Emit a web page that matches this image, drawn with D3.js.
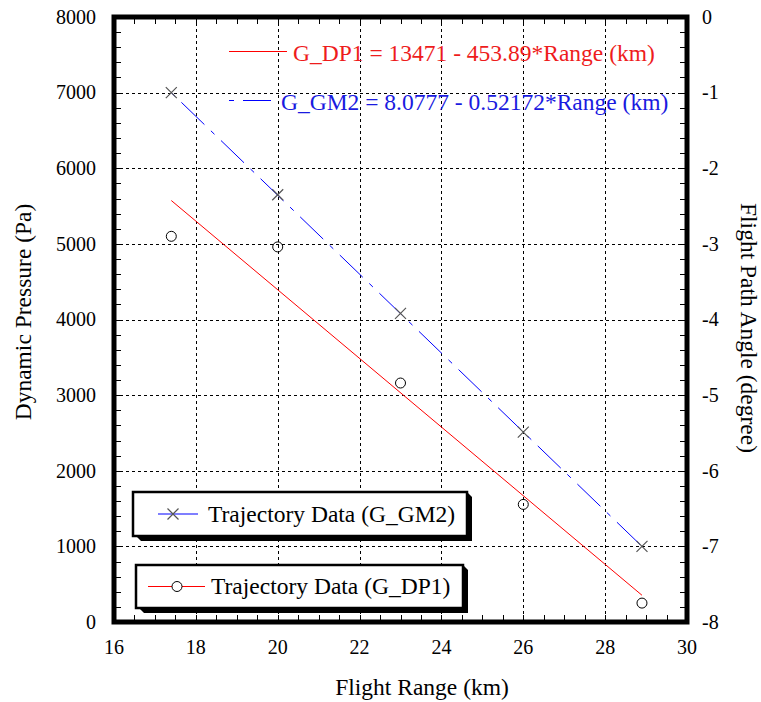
<!DOCTYPE html>
<html>
<head>
<meta charset="utf-8">
<script src="https://cdn.jsdelivr.net/npm/d3@7"></script>
<style>
  body { margin: 0; background: #fff; }
  svg text { font-family: "Liberation Serif", "Times New Roman", serif; }
</style>
</head>
<body>
<svg id="chart" width="761" height="702"></svg>
<script>
// Flight range (km) of the trajectory samples
const rangeKm = [17.4, 20, 23, 26, 28.9];
// Dynamic pressure (Pa), left axis
const dynPressure = [5100, 4960, 3160, 1555, 250];
// Flight path angle (degree), right axis
const pathAngle = [-1.0, -2.35, -3.92, -5.49, -7.0];

// linear fits shown in the annotations
const fitDP1 = { a: 13471, b: 453.89, label: "G_DP1 = 13471 - 453.89*Range (km)" };
const fitGM2 = { a: 8.0777, b: 0.52172, label: "G_GM2 = 8.0777 - 0.52172*Range (km)" };

const xTicks = [16, 18, 20, 22, 24, 26, 28, 30];
const yLeftTicks = [0, 1000, 2000, 3000, 4000, 5000, 6000, 7000, 8000];
const yRightTicks = [0, -1, -2, -3, -4, -5, -6, -7, -8];

const svg = d3.select("#chart");
const plot = { left: 114, top: 17, right: 687, bottom: 622 };
const bigFont = 23.5;

const x = d3.scaleLinear().domain([16, 30]).range([plot.left, plot.right]);
const yL = d3.scaleLinear().domain([0, 8000]).range([plot.bottom, plot.top]);
const yR = d3.scaleLinear().domain([-8, 0]).range([plot.bottom, plot.top]);

// dashed grid at major ticks
const grid = svg.append("g").attr("stroke", "#000").attr("stroke-width", 1)
  .attr("stroke-dasharray", "3,3").attr("shape-rendering", "crispEdges");
xTicks.slice(1, -1).forEach(t => {
  grid.append("line").attr("x1", Math.round(x(t)) + 0.5).attr("x2", Math.round(x(t)) + 0.5)
    .attr("y1", plot.top).attr("y2", plot.bottom);
});
yLeftTicks.slice(1, -1).forEach(t => {
  grid.append("line").attr("y1", Math.round(yL(t)) + 0.5).attr("y2", Math.round(yL(t)) + 0.5)
    .attr("x1", plot.left).attr("x2", plot.right);
});

// minor ticks pointing inward on all four sides
const minorX = d3.range(16, 30.01, 0.5);
const minorY = d3.range(0, 8001, 200);
const ticks = svg.append("g").attr("stroke", "#000").attr("stroke-width", 1)
  .attr("shape-rendering", "crispEdges");
minorX.forEach(t => {
  const px = Math.round(x(t)) + 0.5;
  ticks.append("line").attr("x1", px).attr("x2", px).attr("y1", plot.bottom).attr("y2", plot.bottom - 7);
  ticks.append("line").attr("x1", px).attr("x2", px).attr("y1", plot.top).attr("y2", plot.top + 7);
});
minorY.forEach(t => {
  const py = Math.round(yL(t)) + 0.5;
  ticks.append("line").attr("y1", py).attr("y2", py).attr("x1", plot.left).attr("x2", plot.left + 7);
  ticks.append("line").attr("y1", py).attr("y2", py).attr("x1", plot.right).attr("x2", plot.right - 7);
});

// fit lines
const fitX = [rangeKm[0], rangeKm[rangeKm.length - 1]];
svg.append("path")
  .attr("d", d3.line().x(d => x(d)).y(d => yL(fitDP1.a - fitDP1.b * d))(fitX))
  .attr("fill", "none").attr("stroke", "#ff0000").attr("stroke-width", 1);
svg.append("path")
  .attr("d", d3.line().x(d => x(d)).y(d => yR(fitGM2.a - fitGM2.b * d))(fitX))
  .attr("fill", "none").attr("stroke", "#0000ff").attr("stroke-width", 1)
  .attr("stroke-dasharray", "32,9,5,9").attr("stroke-dashoffset", -14);

// markers
function cross(g, cx, cy, s) {
  g.append("path").attr("d", `M${cx - s},${cy - s}L${cx + s},${cy + s}M${cx - s},${cy + s}L${cx + s},${cy - s}`)
    .attr("stroke", "#555").attr("stroke-width", 1.2).attr("fill", "none");
}
const marks = svg.append("g");
rangeKm.forEach((r, i) => {
  marks.append("circle").attr("cx", x(r)).attr("cy", yL(dynPressure[i])).attr("r", 5)
    .attr("fill", "none").attr("stroke", "#000").attr("stroke-width", 1);
  cross(marks, x(r), yR(pathAngle[i]), 5.5);
});

// frame
svg.append("rect").attr("x", plot.left).attr("y", plot.top)
  .attr("width", plot.right - plot.left).attr("height", plot.bottom - plot.top)
  .attr("fill", "none").attr("stroke", "#000").attr("stroke-width", 5);

// tick labels
const lab = svg.append("g").attr("font-size", 20).attr("fill", "#000");
xTicks.forEach(t => {
  lab.append("text").attr("x", x(t)).attr("y", 654).attr("text-anchor", "middle").text(t);
});
yLeftTicks.forEach(t => {
  lab.append("text").attr("x", 96).attr("y", yL(t)).attr("dy", "0.34em")
    .attr("text-anchor", "end").text(t);
});
yRightTicks.forEach(t => {
  lab.append("text").attr("x", 702).attr("y", yR(t)).attr("dy", "0.34em")
    .attr("text-anchor", "start").text(t);
});

// axis titles
svg.append("text").attr("x", 422).attr("y", 695).attr("text-anchor", "middle")
  .attr("font-size", bigFont).text("Flight Range (km)");
svg.append("text").attr("transform", "translate(31,312) rotate(-90)")
  .attr("text-anchor", "middle").attr("font-size", bigFont).text("Dynamic Pressure (Pa)");
svg.append("text").attr("transform", "translate(741,328) rotate(90)")
  .attr("text-anchor", "middle").attr("font-size", bigFont).text("Flight Path Angle (degree)");

// fit annotations
svg.append("line").attr("x1", 229).attr("x2", 287).attr("y1", 51.5).attr("y2", 51.5)
  .attr("stroke", "#ff0000").attr("stroke-width", 1);
svg.append("text").attr("x", 293).attr("y", 61).attr("font-size", bigFont).attr("fill", "#ee1c1c")
  .text(fitDP1.label);
svg.append("line").attr("x1", 229).attr("x2", 271).attr("y1", 100.5).attr("y2", 100.5)
  .attr("stroke", "#0000ff").attr("stroke-width", 1).attr("stroke-dasharray", "5,9,28");
svg.append("text").attr("x", 281).attr("y", 110).attr("font-size", bigFont).attr("fill", "#1a1ae0")
  .text(fitGM2.label);

// legend boxes with drop shadow
function legendBox(bx, by, bw, bh, draw, label) {
  const g = svg.append("g");
  g.append("path")
    .attr("d", `M${bx + 3},${by + bh}L${bx + 8},${by + bh + 5}L${bx + bw + 5},${by + bh + 5}L${bx + bw + 5},${by + 5}L${bx + bw},${by}Z`)
    .attr("fill", "#000");
  g.append("rect").attr("x", bx).attr("y", by).attr("width", bw).attr("height", bh)
    .attr("fill", "#fff").attr("stroke", "#000").attr("stroke-width", 2.5);
  draw(g, by + bh / 2);
  g.append("text").attr("x", bx + 75).attr("y", by + bh / 2).attr("dy", "0.34em")
    .attr("font-size", bigFont).text(label);
}
legendBox(133, 492, 334, 44, (g, cy) => {
  g.append("line").attr("x1", 158).attr("x2", 198).attr("y1", cy).attr("y2", cy)
    .attr("stroke", "#0000ff").attr("stroke-width", 1.2);
  cross(g, 173, cy, 5.5);
}, "Trajectory Data (G_GM2)");
legendBox(136, 565, 327, 43, (g, cy) => {
  g.append("line").attr("x1", 148).attr("x2", 205).attr("y1", cy).attr("y2", cy)
    .attr("stroke", "#ff0000").attr("stroke-width", 1.2);
  g.append("circle").attr("cx", 177).attr("cy", cy).attr("r", 5)
    .attr("fill", "#fff").attr("stroke", "#000");
}, "Trajectory Data (G_DP1)");
</script>
</body>
</html>
